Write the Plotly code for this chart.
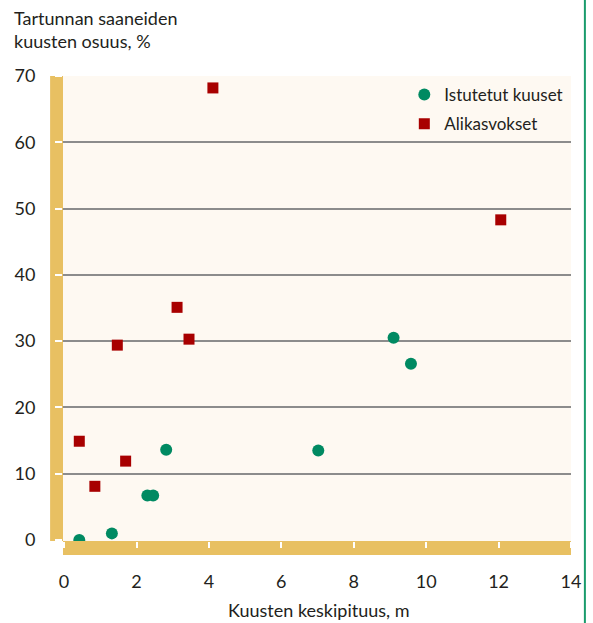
import plotly.graph_objects as go

# Data
planted_x = [0.42, 1.32, 2.30, 2.46, 2.82, 7.02, 9.10, 9.58]
planted_y = [0.0, 1.0, 6.7, 6.7, 13.6, 13.5, 30.5, 26.6]
under_x = [0.42, 0.85, 1.47, 1.70, 3.12, 3.45, 4.11, 12.06]
under_y = [14.9, 8.1, 29.4, 11.9, 35.1, 30.3, 68.2, 48.3]

x_ticks = [0, 2, 4, 6, 8, 10, 12, 14]
y_ticks = [0, 10, 20, 30, 40, 50, 60, 70]

series_names = ["Istutetut kuuset", "Alikasvokset"]
y_title = "Tartunnan saaneiden<br>kuusten osuus, %"
x_title = "Kuusten keskipituus, m"

GREEN = "#008a62"
RED = "#a80000"
YELLOW = "#e8c062"
BG = "#fef9f2"
TXT = "#231f20"
FONT = "Lato"

fig = go.Figure()
fig.add_trace(go.Scatter(x=planted_x, y=planted_y, mode="markers", name=series_names[0],
                         legendgroup="a",
                         marker=dict(symbol="circle", size=12, color=GREEN)))
fig.add_trace(go.Scatter(x=under_x, y=under_y, mode="markers", name=series_names[1],
                         legendgroup="b",
                         marker=dict(symbol="square", size=11, color=RED)))

W, H = 593, 623
L, R, T, B = 63, 18, 76, 82
pw, ph = W - L - R, H - T - B

fig.update_layout(
    width=W, height=H,
    margin=dict(l=L, r=R, t=T, b=B, pad=0),
    paper_bgcolor="white", plot_bgcolor=BG,
    font=dict(family=FONT, size=18, color=TXT),
    showlegend=True,
    legend=dict(x=(407 - L) / pw, y=1 - (77 - T) / ph, xanchor="left", yanchor="top",
                bgcolor="rgba(0,0,0,0)", borderwidth=0, itemwidth=30,
                traceorder="grouped", tracegroupgap=4,
                font=dict(family=FONT, size=17, color=TXT)),
    xaxis=dict(range=[-0.03, 14.0], tickvals=x_ticks, showgrid=False, zeroline=False,
               showline=False, ticks="outside", ticklen=6, tickwidth=2, tickcolor="white",
               ticklabelstandoff=18, tickfont=dict(family=FONT, size=18, color=TXT)),
    yaxis=dict(range=[-0.15, 70.0], tickvals=y_ticks, showgrid=True, gridcolor="#8c8c8c",
               gridwidth=1.5, zeroline=False, showline=False, ticks="outside", ticklen=7,
               tickwidth=2, tickcolor="white", ticklabelstandoff=16,
               tickfont=dict(family=FONT, size=18, color=TXT)),
)

# yellow axis bars
fig.add_shape(type="rect", xref="paper", yref="paper", x0=-13 / pw, x1=0, y0=0, y1=1,
              fillcolor=YELLOW, line_width=0, layer="below")
fig.add_shape(type="rect", xref="paper", yref="paper", x0=0, x1=1, y0=-14 / ph, y1=0,
              fillcolor=YELLOW, line_width=0, layer="below")
# green vertical rule at right edge
fig.add_shape(type="line", xref="paper", yref="paper", x0=(589 - L) / pw, x1=(589 - L) / pw,
              y0=-B / ph, y1=1 + T / ph, line=dict(color="#1a9b6c", width=2))

fig.add_annotation(text=y_title, xref="paper", yref="paper", x=(12 - L) / pw, y=1 + (T - 5) / ph,
                   xanchor="left", yanchor="top", align="left", showarrow=False,
                   font=dict(family=FONT, size=18, color=TXT))
fig.add_annotation(text=x_title, xref="paper", yref="paper", x=(321 - L) / pw, y=-(610 - 541) / ph,
                   xanchor="center", yanchor="middle", showarrow=False,
                   font=dict(family=FONT, size=18, color=TXT))

fig.write_html("out.html", config={"displayModeBar": False},
               post_script="document.body.style.margin='0';")
